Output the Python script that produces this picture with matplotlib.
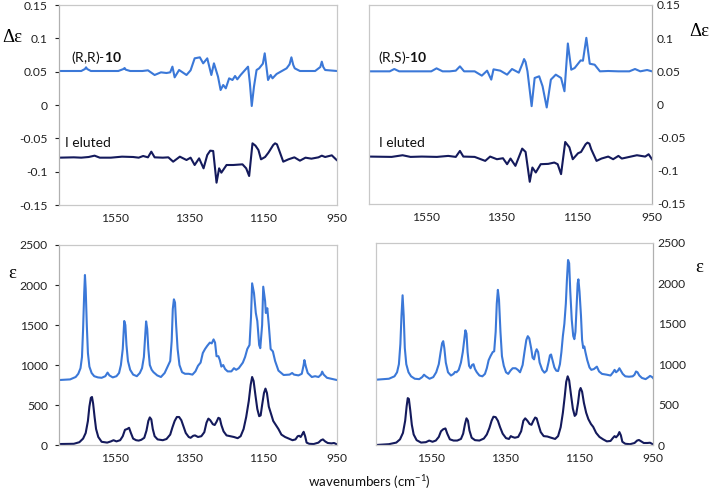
import matplotlib
matplotlib.use('Agg')
import matplotlib.pyplot as plt

plt.rcParams['font.family'] = ['Lato', 'DejaVu Sans']
plt.rcParams['mathtext.fontset'] = 'custom'
plt.rcParams['mathtext.rm'] = 'Lato'
plt.rcParams['mathtext.bf'] = 'Lato:bold'

# ---- CD spectra (delta epsilon), top row ----
# (R,R)-10 calculated, top left
tl_rr_x = [1700, 1640, 1630, 1627, 1624, 1614, 1540, 1526, 1523, 1520, 1508, 1475, 1460, 1442, 1425, 1410, 1400,
           1394, 1388, 1376, 1356, 1345, 1334, 1320, 1311, 1300, 1289, 1282, 1271, 1264,
           1257, 1250, 1241, 1232, 1225, 1219, 1210, 1194, 1190, 1185, 1180, 1174, 1167,
           1160, 1150, 1145, 1141, 1136, 1129, 1124, 1113, 1086, 1078, 1073, 1068, 1064, 1050, 1009, 995, 991, 987, 982, 950]
tl_rr_y = [0.051, 0.051, 0.054, 0.0565, 0.054, 0.051, 0.051, 0.054, 0.0555, 0.053, 0.051, 0.051, 0.052, 0.045, 0.049, 0.048, 0.049,
           0.0575, 0.0415, 0.0525, 0.045, 0.052, 0.07, 0.0715, 0.0625, 0.07, 0.045, 0.0625, 0.0425, 0.0225,
           0.03, 0.025, 0.04, 0.0375, 0.0435, 0.0385, 0.045, 0.055, 0.0575, 0.0325, -0.0015, 0.0275, 0.0525,
           0.055, 0.062, 0.0775, 0.06, 0.0375, 0.045, 0.04, 0.0465, 0.055, 0.061, 0.0715, 0.06, 0.055, 0.051, 0.051, 0.057, 0.065, 0.057, 0.0525, 0.051]

# I eluted, top left
tl_el_x = [1700, 1660, 1640, 1620, 1604, 1590, 1560, 1530, 1500, 1485, 1473, 1460, 1451, 1442,
           1420, 1405, 1392, 1374, 1356, 1345, 1334, 1322, 1310, 1300, 1292, 1284, 1275, 1268,
           1262, 1248, 1230, 1205, 1195, 1187, 1178, 1170, 1162, 1155, 1144, 1135, 1122, 1117, 1112, 1108, 1095,
           1081, 1065, 1050, 1035, 1019, 1000, 991, 982, 964, 951]
tl_el_y = [-0.079, -0.0785, -0.079, -0.078, -0.076, -0.079, -0.079, -0.0775, -0.078, -0.079, -0.0765, -0.0785, -0.07, -0.0785,
           -0.079, -0.0785, -0.085, -0.0775, -0.0825, -0.079, -0.09, -0.08, -0.095, -0.075, -0.0685, -0.069, -0.1165, -0.095,
           -0.1015, -0.09, -0.09, -0.089, -0.095, -0.1065, -0.0575, -0.061, -0.0675, -0.0815, -0.078, -0.0715, -0.06, -0.0575, -0.059, -0.065, -0.085,
           -0.0815, -0.0785, -0.0835, -0.079, -0.0805, -0.0785, -0.076, -0.078, -0.0755, -0.0825]

# (R,S)-10 calculated, top right
tr_rs_x = [1700, 1645, 1633, 1620, 1535, 1521, 1505, 1486, 1470, 1459, 1448, 1420, 1401, 1387,
           1376, 1370, 1352, 1334, 1321, 1303, 1293, 1289, 1285, 1280, 1269, 1261, 1249, 1240, 1229, 1218,
           1205, 1191, 1182, 1173, 1164, 1155, 1139, 1133, 1124, 1115, 1102, 1088, 1066, 1039,
           1010, 995, 981, 963, 950]
tr_rs_y = [0.05, 0.05, 0.0535, 0.05, 0.05, 0.0545, 0.05, 0.05, 0.051, 0.0575, 0.05, 0.05, 0.0435, 0.051,
           0.0375, 0.053, 0.051, 0.045, 0.0535, 0.048, 0.062, 0.0685, 0.064, 0.05, -0.0025, 0.04, 0.0425, 0.0275, -0.0045, 0.0375,
           0.045, 0.04, 0.02, 0.092, 0.0525, 0.055, 0.0665, 0.066, 0.1005, 0.0615, 0.06, 0.05, 0.0505, 0.05,
           0.05, 0.0535, 0.05, 0.052, 0.05]

# I eluted, top right
tr_el_x = [1700, 1640, 1611, 1590, 1560, 1520, 1490, 1470, 1459, 1450, 1420, 1392, 1379, 1361,
           1345, 1334, 1325, 1312, 1294, 1285, 1274, 1267, 1258, 1245, 1225, 1209, 1200, 1191,
           1180, 1169, 1160, 1146, 1138, 1126, 1121, 1116, 1111, 1097, 1084, 1066, 1053, 1039, 1030, 1010,
           990, 968, 959, 950]
tr_el_y = [-0.0785, -0.079, -0.0765, -0.079, -0.0785, -0.079, -0.0775, -0.079, -0.07, -0.0785, -0.079, -0.085, -0.0785, -0.0825,
           -0.081, -0.09, -0.0815, -0.0925, -0.0665, -0.0715, -0.1165, -0.095, -0.1025, -0.09, -0.0895, -0.0875, -0.09, -0.105,
           -0.0565, -0.0645, -0.0825, -0.0735, -0.0715, -0.06, -0.0575, -0.059, -0.0675, -0.085, -0.0815, -0.0785, -0.0825, -0.0775, -0.0815, -0.079,
           -0.0765, -0.0785, -0.075, -0.0825]

# ---- IR spectra (epsilon), bottom row ----
bl_rr_x = [1700, 1670, 1655, 1648, 1642, 1638, 1635, 1632, 1630, 1628, 1625, 1622, 1618, 1612, 1605, 1595,
           1585, 1575, 1569, 1564, 1555, 1545, 1538, 1533, 1528, 1524, 1521, 1518, 1514, 1508, 1500, 1490,
           1482, 1476, 1471, 1467, 1465, 1462, 1459, 1455, 1450, 1445, 1435, 1425, 1415, 1405, 1400, 1396,
           1393, 1390, 1387, 1384, 1380, 1375, 1368, 1360, 1350, 1340, 1332, 1325, 1318, 1312, 1306, 1300,
           1293, 1288, 1283, 1279, 1275, 1270, 1266, 1262, 1257, 1252, 1245, 1235, 1228, 1222, 1215, 1204,
           1198, 1192, 1186, 1182, 1179, 1174, 1169, 1165, 1160, 1157, 1152, 1149, 1144, 1142, 1138, 1134,
           1129, 1123, 1117, 1108, 1094, 1078, 1071, 1066, 1054, 1045, 1040, 1038, 1034, 1029, 1018, 1009,
           1000, 993, 990, 986, 977, 950]
bl_rr_y = [812, 820, 850, 890, 960, 1100, 1450, 1900, 2125, 1950, 1500, 1150, 980, 900, 860, 845,
           840, 860, 905, 870, 845, 860, 900, 1000, 1200, 1550, 1500, 1250, 1050, 940, 880, 860,
           900, 960, 1100, 1400, 1545, 1450, 1200, 1000, 940, 910, 870, 850, 900, 1000, 1050, 1300,
           1700, 1821, 1780, 1500, 1200, 1000, 910, 890, 890, 880, 920, 990, 1030, 1150, 1200, 1240,
           1280, 1270, 1320, 1280, 1110, 1110, 1060, 980, 1000, 950, 920, 920, 960, 940, 960, 1030,
           1100, 1200, 1250, 1600, 2021, 1900, 1650, 1550, 1250, 1210, 1500, 1979, 1800, 1650, 1710, 1500,
           1200, 1170, 1050, 930, 875, 880, 900, 880, 870, 890, 1000, 1062, 980, 900, 850, 860,
           850, 880, 917, 880, 840, 812]

bl_el_x = [1700, 1660, 1645, 1635, 1628, 1622, 1618, 1614, 1611, 1608, 1604, 1600, 1594, 1585, 1570, 1560,
           1553, 1545, 1535, 1528, 1522, 1516, 1511, 1506, 1500, 1492, 1485, 1478, 1470, 1464, 1459, 1455,
           1451, 1447, 1442, 1434, 1420, 1410, 1400, 1394, 1388, 1382, 1376, 1370, 1364, 1358, 1350, 1345,
           1338, 1333, 1325, 1316, 1308, 1302, 1297, 1292, 1285, 1280, 1275, 1270, 1266, 1262, 1256, 1248,
           1238, 1228, 1218, 1210, 1202, 1195, 1188, 1183, 1179, 1175, 1170, 1165, 1160, 1156, 1152, 1147,
           1143, 1139, 1134, 1128, 1122, 1115, 1108, 1100, 1090, 1080, 1070, 1062, 1056, 1052, 1048, 1043,
           1040, 1036, 1032, 1025, 1013, 1000, 993, 988, 982, 975, 965, 958, 950]
bl_el_y = [12, 15, 35, 80, 150, 300, 480, 590, 600, 520, 350, 200, 100, 40, 30, 45,
           60, 45, 60, 110, 190, 200, 215, 150, 80, 60, 55, 65, 90, 180, 300, 345,
           320, 200, 110, 70, 60, 75, 130, 220, 300, 350, 350, 310, 230, 150, 100, 90,
           115, 120, 100, 110, 160, 280, 330, 310, 260, 250, 290, 340, 330, 250, 170, 120,
           110, 100, 85, 110, 200, 350, 550, 750, 850, 800, 620, 450, 360, 370, 500, 650,
           705, 650, 480, 390, 300, 250, 200, 130, 100, 80, 60, 70, 110, 115, 100, 140,
           165, 110, 30, 15, 12, 30, 60, 70, 45, 25, 20, 25, 8]

br_rs_x = [1700, 1665, 1650, 1643, 1638, 1634, 1631, 1628, 1625, 1622, 1618, 1612, 1605, 1595, 1583, 1575,
           1570, 1565, 1555, 1545, 1537, 1530, 1525, 1521, 1518, 1515, 1511, 1505, 1497, 1490, 1486, 1482,
           1476, 1470, 1465, 1461, 1458, 1455, 1452, 1448, 1444, 1440, 1436, 1432, 1427, 1420, 1412, 1405,
           1400, 1395, 1390, 1384, 1380, 1376, 1373, 1370, 1367, 1363, 1359, 1354, 1348, 1342, 1336, 1330,
           1322, 1316, 1310, 1303, 1298, 1293, 1289, 1285, 1280, 1276, 1272, 1268, 1265, 1261, 1257, 1250,
           1244, 1238, 1233, 1229, 1226, 1222, 1217, 1212, 1207, 1202, 1198, 1194, 1190, 1186, 1183, 1180,
           1177, 1174, 1170, 1166, 1163, 1160, 1157, 1154, 1152, 1149, 1145, 1142, 1139, 1136, 1133, 1128,
           1122, 1117, 1110, 1102, 1096, 1088, 1075, 1065, 1058, 1054, 1050, 1045, 1041, 1037, 1032, 1025,
           1015, 1005, 1000, 996, 992, 987, 980, 970, 962, 958, 952, 950]
br_rs_y = [808, 820, 850, 900, 1000, 1250, 1600, 1853, 1600, 1200, 1000, 900, 850, 820, 815, 840,
           870, 850, 820, 840, 900, 1000, 1150, 1260, 1285, 1200, 1020, 900, 860, 880, 905, 900,
           930, 1020, 1150, 1300, 1420, 1380, 1150, 980, 950, 990, 1000, 940, 900, 860, 850, 880,
           950, 1050, 1100, 1150, 1160, 1400, 1750, 1920, 1800, 1400, 1100, 980, 900, 880, 920, 950,
           950, 930, 900, 990, 1150, 1300, 1347, 1320, 1200, 1080, 1060, 1150, 1185, 1150, 1020, 930,
           895, 920, 1020, 1110, 1120, 1050, 960, 920, 915, 1000, 1150, 1350, 1500, 1750, 2050, 2290,
           2250, 1900, 1550, 1350, 1310, 1400, 1700, 2000, 2050, 1900, 1600, 1300, 1200, 1220, 1150, 1050,
           960, 930, 940, 970, 910, 880, 870, 860, 900, 930, 900, 920, 950, 920, 880, 850,
           845, 850, 870, 910, 900, 860, 830, 815, 840, 855, 840, 829]

br_el_x = [1700, 1665, 1645, 1635, 1627, 1621, 1617, 1614, 1611, 1607, 1603, 1598, 1590, 1578, 1565, 1556,
           1547, 1538, 1530, 1524, 1518, 1512, 1507, 1500, 1490, 1480, 1470, 1464, 1459, 1455, 1451, 1447,
           1441, 1432, 1420, 1408, 1400, 1393, 1387, 1382, 1376, 1370, 1364, 1357, 1348, 1340, 1335, 1331,
           1324, 1315, 1307, 1301, 1296, 1290, 1284, 1279, 1274, 1269, 1265, 1260, 1254, 1246, 1236, 1226,
           1215, 1207, 1200, 1194, 1189, 1185, 1181, 1177, 1172, 1167, 1162, 1158, 1153, 1149, 1146, 1142,
           1137, 1131, 1125, 1118, 1112, 1104, 1095, 1085, 1075, 1065, 1058, 1054, 1050, 1045, 1041, 1037,
           1033, 1025, 1012, 1000, 993, 988, 982, 975, 965, 958, 950]
br_el_y = [0, 10, 30, 70, 150, 300, 480, 580, 570, 420, 250, 130, 60, 30, 35, 55,
           40, 55, 100, 170, 195, 205, 140, 70, 55, 55, 75, 140, 260, 330, 300, 180,
           90, 60, 55, 80, 130, 210, 300, 350, 345, 300, 220, 140, 85, 75, 110, 100,
           90, 100, 170, 300, 330, 300, 260, 250, 300, 340, 330, 250, 160, 110, 105, 90,
           75, 110, 220, 400, 600, 780, 850, 800, 620, 450, 360, 380, 520, 670, 705, 660,
           520, 400, 320, 260, 225, 150, 100, 70, 45, 50, 90, 110, 95, 120, 160, 120,
           40, 15, 10, 25, 55, 62, 45, 25, 25, 28, 8]

x_ticks = [1550, 1350, 1150, 950]
cd_ticks = [0.15, 0.1, 0.05, 0, -0.05, -0.1, -0.15]
cd_labels = ['0.15', '0.1', '0.05', '0', '-0.05', '-0.1', '-0.15']
ir_ticks = [0, 500, 1000, 1500, 2000, 2500]

blue = '#3b78d8'
navy = '#141a5c'
W, H = 709, 491
tick_fs = 8.7
lab_fs = 10

fig = plt.figure(figsize=(W / 100, H / 100), dpi=100)


def make_axes(x0, y0, x1, y1):
    # pixel box -> figure fraction
    return fig.add_axes([x0 / W, 1 - y1 / H, (x1 - x0) / W, (y1 - y0) / H])


def style(ax, right=False):
    for name, sp in ax.spines.items():
        sp.set_color('#c8c8c8')
        sp.set_linewidth(0.9)
    ax.spines['left' if not right else 'right'].set_color('#b0b0b0')
    ax.set_xlim(1700, 950)
    ax.set_xticks(x_ticks)
    ax.tick_params(axis='x', length=0, pad=6, labelsize=tick_fs, colors='#222222')
    if right:
        ax.yaxis.tick_right()
        ax.tick_params(axis='y', length=0, pad=3.5, labelsize=tick_fs, colors='#222222')
    else:
        ax.tick_params(axis='y', length=3, pad=5, labelsize=tick_fs, colors='#222222')
        for t in ax.yaxis.get_ticklines():
            t.set_color('#b0b0b0')


ax1 = make_axes(59, 5, 337, 205)
ax2 = make_axes(369, 5, 652, 204)
ax3 = make_axes(59, 245, 337, 445)
ax4 = make_axes(376, 243, 653, 445)

lw = 1.5
ax1.plot(tl_rr_x, tl_rr_y, color=blue, lw=lw)
ax1.plot(tl_el_x, tl_el_y, color=navy, lw=lw)
ax2.plot(tr_rs_x, tr_rs_y, color=blue, lw=lw)
ax2.plot(tr_el_x, tr_el_y, color=navy, lw=lw)
ax3.plot(bl_rr_x, bl_rr_y, color=blue, lw=lw)
ax3.plot(bl_el_x, bl_el_y, color=navy, lw=lw)
ax4.plot(br_rs_x, br_rs_y, color=blue, lw=lw)
ax4.plot(br_el_x, br_el_y, color=navy, lw=lw)

for ax, right in [(ax1, False), (ax2, True)]:
    style(ax, right)
    ax.set_ylim(-0.15, 0.15)
    ax.set_yticks(cd_ticks)
    ax.set_yticklabels(cd_labels)
for ax, right in [(ax3, False), (ax4, True)]:
    style(ax, right)
    ax.set_ylim(0, 2500)
    ax.set_yticks(ir_ticks)

# series labels
fig.text(71 / W, 1 - 57 / H, r'(R,R)-$\mathbf{10}$', fontsize=lab_fs, va='center', color='#111111')
fig.text(378 / W, 1 - 57 / H, r'(R,S)-$\mathbf{10}$', fontsize=lab_fs, va='center', color='#111111')
fig.text(65 / W, 1 - 143 / H, 'I eluted', fontsize=lab_fs, va='center', color='#111111')
fig.text(379 / W, 1 - 143 / H, 'I eluted', fontsize=lab_fs, va='center', color='#111111')

# axis titles
serif = ['Liberation Serif', 'DejaVu Serif']
fig.text(12 / W, 1 - 37 / H, 'Δε', fontsize=13.5, family=serif, ha='center', va='center')
fig.text(699 / W, 1 - 31 / H, 'Δε', fontsize=13.5, family=serif, ha='center', va='center')
fig.text(12 / W, 1 - 273 / H, 'ε', fontsize=13.5, family=serif, ha='center', va='center')
fig.text(699 / W, 1 - 267 / H, 'ε', fontsize=13.5, family=serif, ha='center', va='center')
fig.text(369 / W, 1 - 482 / H, 'wavenumbers (cm$^{-1}$)', fontsize=9.6, ha='center', va='center',
         color='#111111')

fig.savefig('out.png', dpi=100)
